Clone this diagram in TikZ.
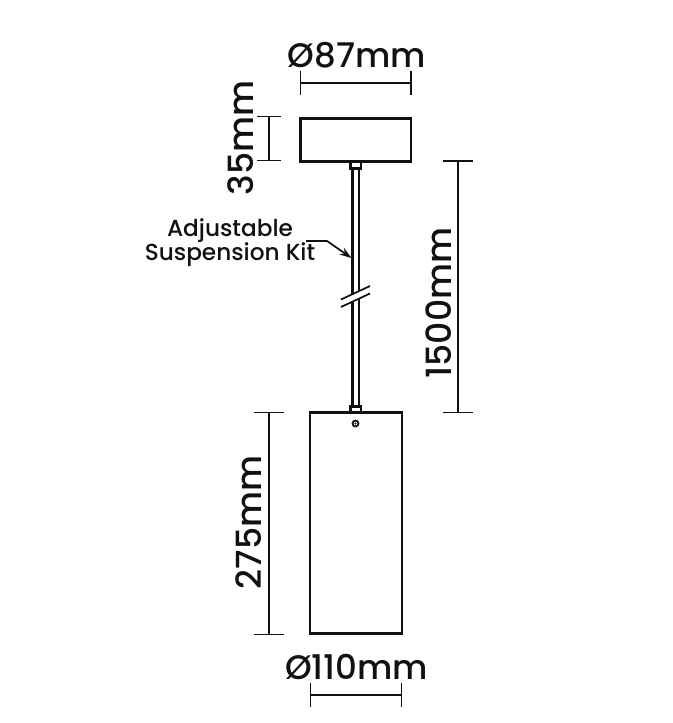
\documentclass[tikz,border=0pt]{standalone}
\usepackage{fontspec}
\setmainfont{Poppins Medium}
\usetikzlibrary{arrows.meta}
\definecolor{inkline}{HTML}{111111}
\tikzset{
	part/.style={draw=inkline, line width=1.6pt},
	dimline/.style={draw=inkline, line width=1.3pt},
	dimtext/.style={text=inkline, font=\fontsize{25.5}{25.5}\selectfont, inner sep=0pt},
	dimtextup/.style={text=inkline, font=\fontsize{26}{26}\selectfont, inner sep=0pt, rotate=90},
	notetext/.style={text=inkline, font=\fontsize{17.4}{17.4}\selectfont, inner sep=0pt}
}
\begin{document}
\begin{tikzpicture}[x=0.75pt,y=-0.75pt]
	\useasboundingbox (0,0) rectangle (672,723);
	
	% Ceiling canopy
	\draw[part] (300.5,118.5) rectangle (411,161.5);
	\draw[part] (350.5,161.5) rectangle (361,168.5);
	
	% Suspension rod
	\coordinate (rodtopleft) at (352.5,168.5);
	\coordinate (rodtopright) at (359,168.5);
	\coordinate (rodbotleft) at (352.5,406.5);
	\coordinate (rodbotright) at (359,406.5);
	\draw[part] (rodtopleft) -- (rodbotleft);
	\draw[part] (rodtopright) -- (rodbotright);
	
	% Break marks on the rod
	\coordinate (breakaleft) at (341,299.5);
	\coordinate (breakaright) at (370,286);
	\coordinate (breakbleft) at (341,307);
	\coordinate (breakbright) at (370,293.5);
	\fill[white] (breakaleft) -- (breakaright) -- (breakbright) -- (breakbleft) -- cycle;
	\draw[dimline] (breakaleft) -- (breakaright);
	\draw[dimline] (breakbleft) -- (breakbright);
	
	% Pendant body with top fitting and screw
	\draw[part] (350.5,406.5) rectangle (361,412.5);
	\draw[part] (310,412.5) rectangle (402,633.5);
	\draw[part, line width=1.3pt] (355.5,423.5) circle (3);
	\fill[inkline] (355.5,423.5) circle (1.2);
	
	% Top diameter
	\coordinate (topdiaa) at (300.5,71);
	\coordinate (topdiab) at (300.5,95);
	\coordinate (topdiac) at (411,71);
	\coordinate (topdiad) at (411,95);
	\coordinate (topdiae) at (300.5,83);
	\coordinate (topdiaf) at (411,83);
	\draw[dimline] (topdiaa) -- (topdiab);
	\draw[dimline] (topdiac) -- (topdiad);
	\draw[dimline] (topdiae) -- (topdiaf);
	\node[dimtext] (topdialabel) at (357,55) {Ø87mm};
	
	% Canopy height
	\coordinate (canopya) at (257,116.5);
	\coordinate (canopyb) at (281,116.5);
	\coordinate (canopyc) at (257,160.5);
	\coordinate (canopyd) at (281,160.5);
	\coordinate (canopye) at (269,116.5);
	\coordinate (canopyf) at (269,160.5);
	\draw[dimline] (canopya) -- (canopyb);
	\draw[dimline] (canopyc) -- (canopyd);
	\draw[dimline] (canopye) -- (canopyf);
	\node[dimtextup] (canopylabel) at (240.5,138) {35mm};
	
	% Drop length
	\coordinate (dropa) at (443,161);
	\coordinate (dropb) at (473,161);
	\coordinate (dropc) at (443,412.5);
	\coordinate (dropd) at (473,412.5);
	\coordinate (drope) at (458,161);
	\coordinate (dropf) at (458,412.5);
	\draw[dimline] (dropa) -- (dropb);
	\draw[dimline] (dropc) -- (dropd);
	\draw[dimline] (drope) -- (dropf);
	\node[dimtextup] (droplabel) at (438.5,303) {1500mm};
	
	% Body height
	\coordinate (bodya) at (254,412.5);
	\coordinate (bodyb) at (284,412.5);
	\coordinate (bodyc) at (254,634.5);
	\coordinate (bodyd) at (284,634.5);
	\coordinate (bodye) at (269,412.5);
	\coordinate (bodyf) at (269,634.5);
	\draw[dimline] (bodya) -- (bodyb);
	\draw[dimline] (bodyc) -- (bodyd);
	\draw[dimline] (bodye) -- (bodyf);
	\node[dimtextup] (bodylabel) at (248.5,522.5) {275mm};
	
	% Bottom diameter
	\coordinate (botdiaa) at (310.5,683);
	\coordinate (botdiab) at (310.5,707);
	\coordinate (botdiac) at (401.5,683);
	\coordinate (botdiad) at (401.5,707);
	\coordinate (botdiae) at (310.5,695);
	\coordinate (botdiaf) at (401.5,695);
	\draw[dimline] (botdiaa) -- (botdiab);
	\draw[dimline] (botdiac) -- (botdiad);
	\draw[dimline] (botdiae) -- (botdiaf);
	\node[dimtext] (botdialabel) at (356.5,667) {Ø110mm};
	
	% Suspension kit note and leader
	\node[notetext] (notea) at (230,231) {Adjustable};
	\node[notetext] (noteb) at (230,255) {Suspension Kit};
	\coordinate (leadstart) at (306,241);
	\coordinate (leadbend) at (327,241);
	\coordinate (leadend) at (351.5,258);
	\draw[dimline, -{Stealth[length=9pt,width=6pt]}] (leadstart) -- (leadbend) -- (leadend);
	
\end{tikzpicture}
\end{document}
